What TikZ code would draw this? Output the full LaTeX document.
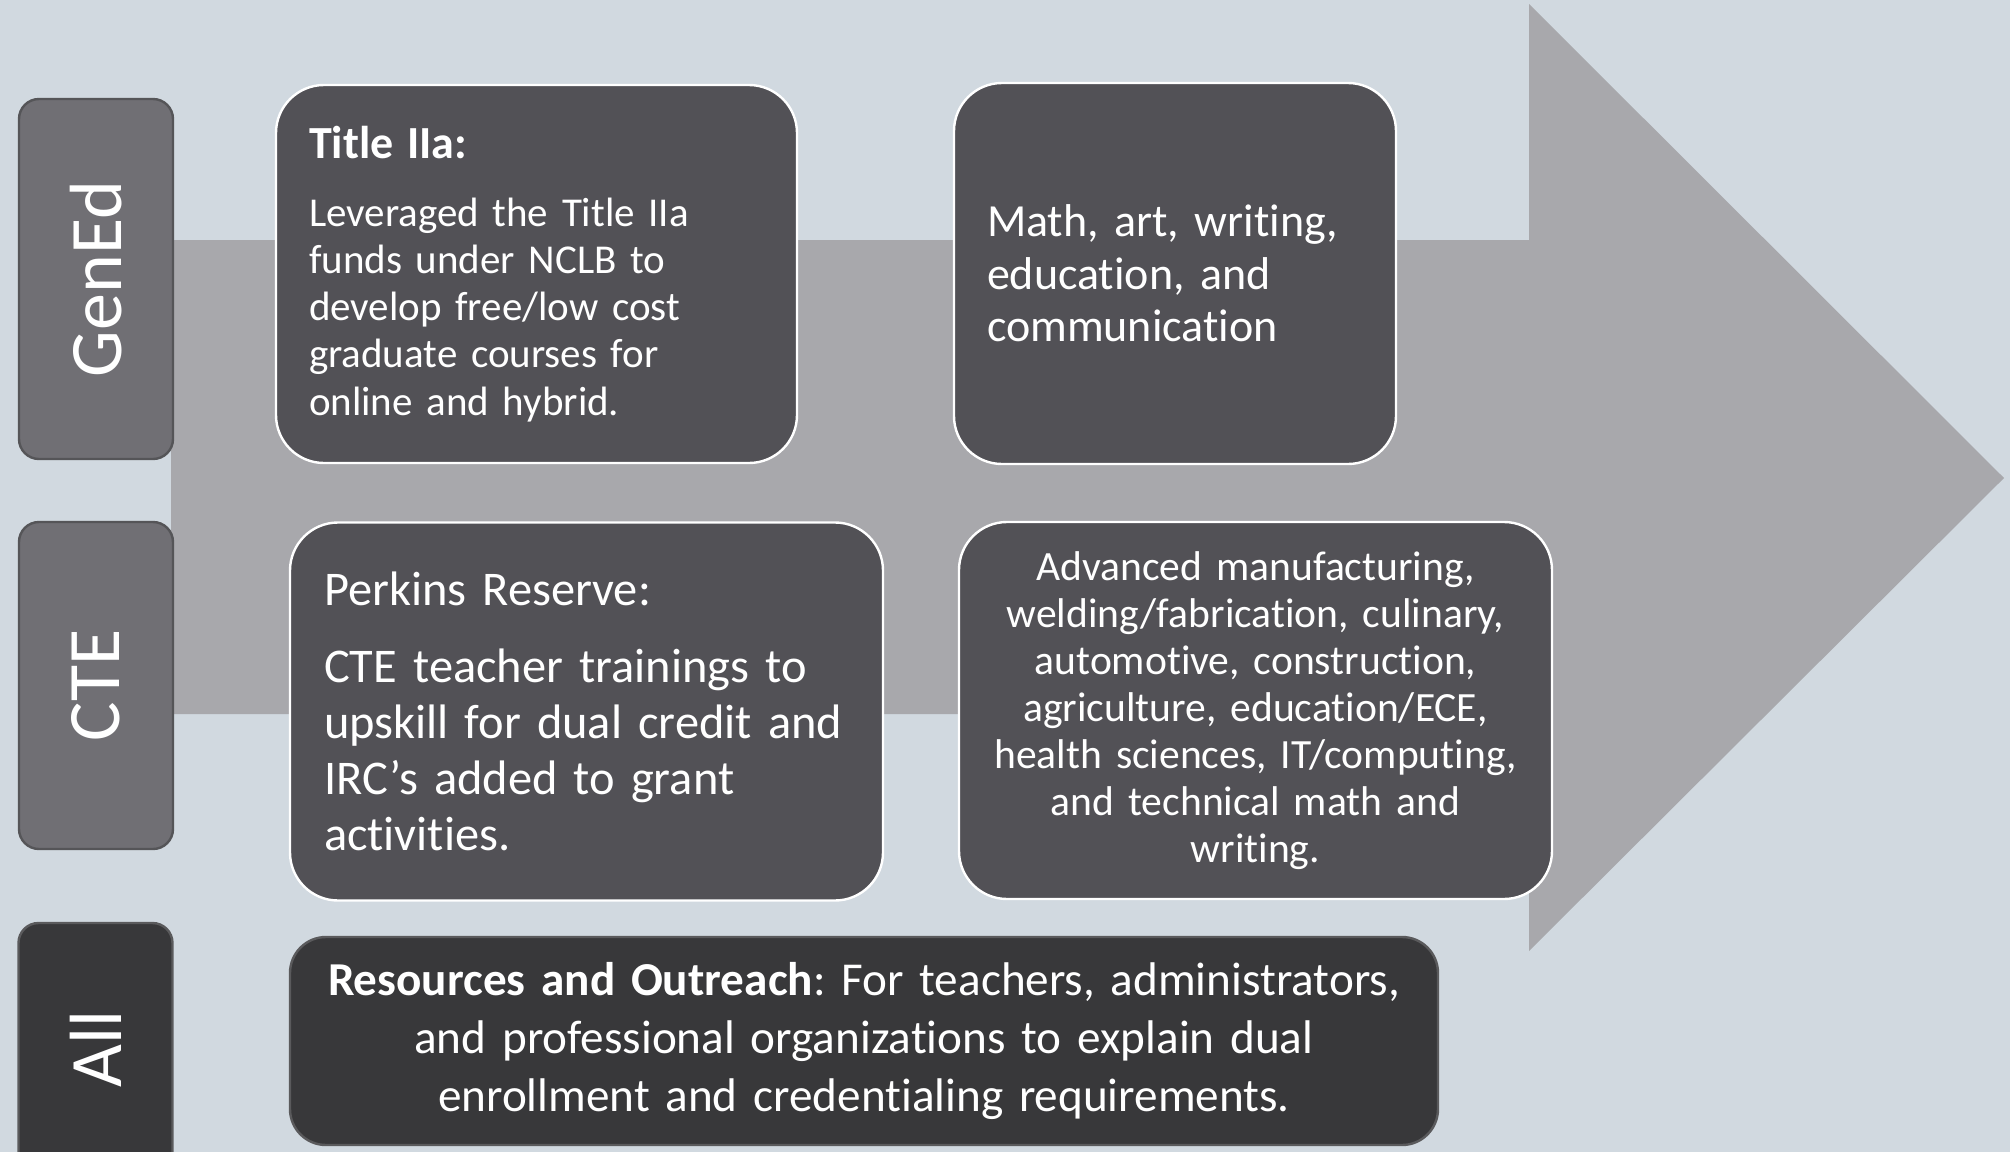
\documentclass[tikz,border=0pt]{standalone}
\usepackage{fontspec}
\setmainfont{Carlito}[Ligatures=NoCommon]
\usetikzlibrary{positioning}
\definecolor{bgblue}{HTML}{D1D9E0}
\definecolor{arrowgray}{HTML}{A8A8AC}
\definecolor{sidegray}{HTML}{706F74}
\definecolor{sideedge}{HTML}{555558}
\definecolor{cardgray}{HTML}{525156}
\definecolor{darkcard}{HTML}{38383A}
\definecolor{darkedge}{HTML}{5A5A5C}
\frenchspacing
\begin{document}
\begin{tikzpicture}
      [x=0.5pt,y=-0.5pt,
       sidebox/.style={draw=sideedge,line width=1.2pt,fill=sidegray,rounded corners=10pt,
         rotate=90,text=white,minimum height=77pt,inner sep=0pt,
         font=\fontsize{37}{42}\selectfont},
       cardbox/.style={draw=white,line width=1.2pt,fill=cardgray,rounded corners=24pt,
         text=white,inner ysep=0pt,minimum height=189pt}]

%background and the big arrow
  \fill[bgblue] (0,0) rectangle (2010,1152);
  \useasboundingbox (0,0) rectangle (2010,1152);
  \fill[arrowgray] (171,240) -- (1529,240) -- (1529,4) -- (2004,478)
     -- (1529,951) -- (1529,714) -- (171,714) -- cycle;

%row labels
  \node[sidebox,minimum width=180pt] (gened) at (96,279) {GenEd};
  \node[sidebox,minimum width=163.5pt] (cte) at (96,685.5) {CTE};
  \node[sidebox,minimum width=126pt,fill=darkcard,draw=darkedge] (all) at (95.5,1049) {All};

%GenEd row
  \node[cardbox,align=left,text width=227.5pt,inner xsep=16.5pt,
        font=\fontsize{20.5}{23.55}\selectfont] (title) at (536.5,274)
    {{\fontsize{23}{26}\selectfont\textbf{Title IIa:}}\\[10.5pt]
     Leveraged the Title IIa\\
     funds under NCLB to\\
     develop free/low cost\\
     graduate courses for\\
     online and hybrid.};
  \node[cardbox,align=left,text width=188pt,inner xsep=16.5pt,minimum height=190.5pt,
        font=\fontsize{23}{26.3}\selectfont] (math) at (1175,273.5)
    {Math, art, writing,\\ education, and\\ communication};

%CTE row
  \node[cardbox,align=left,text width=262.5pt,inner xsep=17pt,
        font=\fontsize{24.2}{27.9}\selectfont] (perkins) at (586.5,711.5)
    {Perkins Reserve:\\[10.6pt]
     CTE teacher trainings to\\
     upskill for dual credit and\\
     IRC’s added to grant\\
     activities.};
  \node[cardbox,align=center,text width=280pt,inner xsep=8.25pt,minimum height=188.5pt,
        font=\fontsize{20.8}{23.5}\selectfont] (fields) at (1255.5,710.5)
    {Advanced manufacturing,\\
     welding/fabrication, culinary,\\
     automotive, construction,\\
     agriculture, education/ECE,\\
     health sciences, IT/computing,\\
     and technical math and\\
     writing.};

%all row
  \node[cardbox,align=center,text width=550pt,inner xsep=12pt,minimum height=104pt,
        rounded corners=18pt,fill=darkcard,draw=darkedge,
        font=\fontsize{23.6}{28.8}\selectfont] (outreach) at (864,1041)
    {\textbf{Resources and Outreach}: For teachers, administrators,\\
     and professional organizations to explain dual\\
     enrollment and credentialing requirements.};

\end{tikzpicture}
\end{document}
